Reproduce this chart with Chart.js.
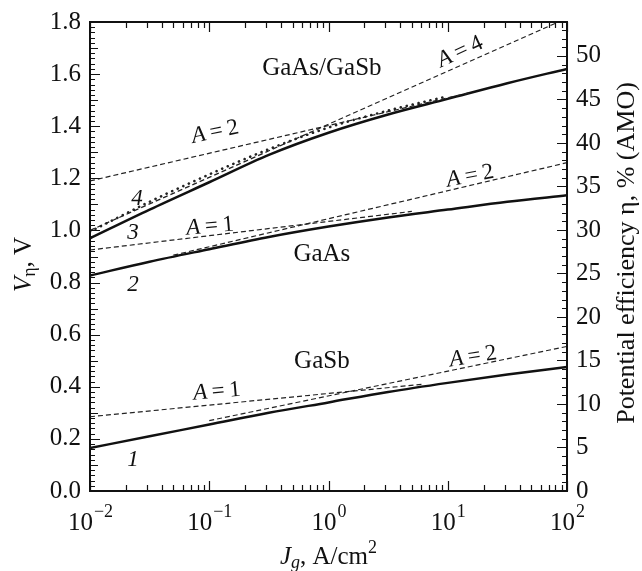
<!DOCTYPE html>
<html>
<head>
<meta charset="utf-8">
<script src="https://cdn.jsdelivr.net/npm/chart.js@4.4.1/dist/chart.umd.min.js"></script>
<style>
  html, body { margin: 0; padding: 0; background: #fff; }
  #grafico { display: block; }
  .pre { position: absolute; left: -999px; top: 0; font-family: "Liberation Serif"; }
</style>
</head>
<body>
<span class="pre">GaAs <i>A</i> 1.8</span>
<canvas id="grafico" width="642" height="571"></canvas>
<script>
// current density grid, A/cm2
const jPontos = [0.01, 0.0316, 0.1, 0.316, 1, 3.16, 10, 31.6, 100];

// solid curves, V
const gaasGasbSolido = [0.970, 1.080, 1.185, 1.290, 1.375, 1.445, 1.505, 1.565, 1.620];
const gaasSolido     = [0.827, 0.880, 0.928, 0.975, 1.015, 1.050, 1.080, 1.110, 1.135];
const gasbSolido     = [0.165, 0.210, 0.255, 0.300, 0.340, 0.380, 0.415, 0.447, 0.476];

// dotted curve (GaAs/GaSb), first 7 points of jPontos
const gaasGasbPontilhado = [0.995, 1.110, 1.215, 1.312, 1.395, 1.460, 1.515];

// straight asymptotes  (J, V)
const tandemA4J = [0.01, 100],  tandemA4V = [1.00, 1.815];
const tandemA2J = [0.01, 15.8], tandemA2V = [1.19, 1.53];
const gaasA1J   = [0.01, 5],    gaasA1V   = [0.925, 1.073];
const gaasA2J   = [0.05, 100],  gaasA2V   = [0.905, 1.26];
const gasbA1J   = [0.01, 6.3],  gasbA1V   = [0.285, 0.41];
const gasbA2J   = [0.1, 100],   gasbA2V   = [0.27, 0.555];

// tick labels
const ticksEsq = [0, 0.2, 0.4, 0.6, 0.8, 1.0, 1.2, 1.4, 1.6, 1.8];
const ticksDir = [0, 5, 10, 15, 20, 25, 30, 35, 40, 45, 50];
const expoentesX = [-2, -1, 0, 1, 2];

const FONTE = '"Liberation Serif"';

function pares(xs, ys) {
    return ys.map((v, i) => ({ x: xs[i], y: v }));
}

function solida(ys) {
    return { data: pares(jPontos, ys), borderColor: '#111', borderWidth: 2.5, cubicInterpolationMode: 'monotone' };
}
function tracejada(xs, ys) {
    return { data: pares(xs, ys), borderColor: '#222', borderWidth: 1.2, borderDash: [5, 3] };
}

const datasets = [
    tracejada(tandemA4J, tandemA4V),
    tracejada(tandemA2J, tandemA2V),
    tracejada(gaasA1J, gaasA1V),
    tracejada(gaasA2J, gaasA2V),
    tracejada(gasbA1J, gasbA1V),
    tracejada(gasbA2J, gasbA2V),
    { data: pares(jPontos, gaasGasbPontilhado), borderColor: '#222', borderWidth: 2.6, borderDash: [0.1, 6],
      borderCapStyle: 'round', cubicInterpolationMode: 'monotone' },
    solida(gaasGasbSolido),
    solida(gaasSolido),
    solida(gasbSolido)
];

// text inside the plot: [parts, J, V, rotation deg, size]
const rotulos = [
    [[['GaAs/GaSb', false]], 0.88, 1.62, 0, 25],
    [[['GaAs', false]], 0.88, 0.908, 0, 25],
    [[['GaSb', false]], 0.88, 0.496, 0, 25],
    [[['4', true]], 0.0248, 1.12, 0, 23],
    [[['3', true]], 0.0229, 0.992, 0, 23],
    [[['2', true]], 0.0229, 0.792, 0, 23],
    [[['1', true]], 0.0229, 0.119, 0, 23],
    [[['A', true], ['\u2009=\u20092', false]], 0.112, 1.377, -12, 23],
    [[['A', true], ['\u2009=\u20091', false]], 0.1016, 1.015, -5, 23],
    [[['A', true], ['\u2009=\u20094', false]], 12.7, 1.685, -25, 23],
    [[['A', true], ['\u2009=\u20092', false]], 15.4, 1.208, -11, 23],
    [[['A', true], ['\u2009=\u20091', false]], 0.116, 0.381, -5, 23],
    [[['A', true], ['\u2009=\u20092', false]], 16.3, 0.515, -9, 23]
];

function textoMisto(ctx, partes, x, y, rot, tam) {
    ctx.save();
    ctx.translate(x, y);
    ctx.rotate(rot * Math.PI / 180);
    let larg = 0;
    partes.forEach(p => {
        ctx.font = (p[1] ? 'italic ' : '') + tam + 'px ' + FONTE;
        larg += ctx.measureText(p[0]).width;
    });
    let cx = -larg / 2;
    ctx.textBaseline = 'middle';
    ctx.textAlign = 'left';
    partes.forEach(p => {
        ctx.font = (p[1] ? 'italic ' : '') + tam + 'px ' + FONTE;
        ctx.fillText(p[0], cx, 0);
        cx += ctx.measureText(p[0]).width;
    });
    ctx.restore();
}

const eixos = {
    id: 'eixos',
    afterDraw(chart) {
        const ctx = chart.ctx;
        const sx = chart.scales.x, sy = chart.scales.y, sy1 = chart.scales.y1;
        const { left, right, top, bottom } = chart.chartArea;
        ctx.save();
        ctx.strokeStyle = '#111';
        ctx.fillStyle = '#111';

        // frame
        ctx.lineWidth = 2;
        ctx.strokeRect(left, top, right - left, bottom - top);

        ctx.lineWidth = 1.2;
        ctx.beginPath();
        // left ticks every 0.02 V
        for (let i = 0; i <= 90; i++) {
            const py = Math.round(sy.getPixelForValue(i * 0.02)) + 0.5;
            const len = i % 10 === 0 ? 10 : (i % 5 === 0 ? 8 : 5);
            ctx.moveTo(left, py); ctx.lineTo(left + len, py);
        }
        // right ticks every 1 %
        for (let i = 0; i <= 53; i++) {
            const py = Math.round(sy1.getPixelForValue(i)) + 0.5;
            const len = i % 5 === 0 ? 10 : 5;
            ctx.moveTo(right, py); ctx.lineTo(right - len, py);
        }
        // log ticks top and bottom
        for (let e = -2; e <= 2; e++) {
            for (let m = 1; m <= 9; m++) {
                if (e === 2 && m > 1) break;
                const px = Math.round(sx.getPixelForValue(m * Math.pow(10, e))) + 0.5;
                const len = m === 1 ? 10 : 6;
                ctx.moveTo(px, bottom); ctx.lineTo(px, bottom - len);
                ctx.moveTo(px, top); ctx.lineTo(px, top + len);
            }
        }
        ctx.stroke();

        // tick labels
        ctx.font = '25px ' + FONTE;
        ctx.textBaseline = 'middle';
        ctx.textAlign = 'right';
        ticksEsq.forEach(v => ctx.fillText(v.toFixed(1), left - 9, sy.getPixelForValue(v)));
        ctx.textAlign = 'left';
        ticksDir.forEach(v => ctx.fillText(String(v), right + 9, sy1.getPixelForValue(v)));

        expoentesX.forEach(e => {
            const px = sx.getPixelForValue(Math.pow(10, e));
            ctx.font = '25px ' + FONTE;
            const wBase = ctx.measureText('10').width;
            const sup = e < 0 ? '\u2212' + (-e) : String(e);
            ctx.font = '18px ' + FONTE;
            const wSup = ctx.measureText(sup).width;
            const x0 = px - (wBase + wSup) / 2;
            ctx.textAlign = 'left';
            ctx.font = '25px ' + FONTE;
            ctx.fillText('10', x0, bottom + 32);
            ctx.font = '18px ' + FONTE;
            ctx.fillText(sup, x0 + wBase + 1, bottom + 21);
        });

        // axis titles
        // bottom: J_g, A/cm2
        {
            const cx = (left + right) / 2;
            const y = bottom + 66;
            const partes = [['J', 'italic 25px '], ['g', 'italic 18px ', 6], [', A/cm', '25px '], ['2', '18px ', -9]];
            let w = 0;
            partes.forEach(p => { ctx.font = p[1] + FONTE; w += ctx.measureText(p[0]).width; });
            let x = cx - w / 2;
            ctx.textAlign = 'left';
            partes.forEach(p => {
                ctx.font = p[1] + FONTE;
                ctx.fillText(p[0], x, y + (p[2] || 0));
                x += ctx.measureText(p[0]).width;
            });
        }
        // left: V_eta, V
        {
            ctx.save();
            ctx.translate(24, (top + bottom) / 2 + 8);
            ctx.rotate(-Math.PI / 2);
            const partes = [['V', 'italic 25px '], ['\u03B7', '18px ', 6], [', V', '25px ']];
            let w = 0;
            partes.forEach(p => { ctx.font = p[1] + FONTE; w += ctx.measureText(p[0]).width; });
            let x = -w / 2;
            partes.forEach(p => {
                ctx.font = p[1] + FONTE;
                ctx.fillText(p[0], x, p[2] || 0);
                x += ctx.measureText(p[0]).width;
            });
            ctx.restore();
        }
        // right: efficiency
        {
            ctx.save();
            ctx.translate(627, 253);
            ctx.rotate(-Math.PI / 2);
            ctx.font = '26px ' + FONTE;
            ctx.textAlign = 'center';
            ctx.fillText('Potential efficiency \u03B7, % (AMO)', 0, 0);
            ctx.restore();
        }

        // labels in the plot
        rotulos.forEach(r => {
            textoMisto(ctx, r[0], sx.getPixelForValue(r[1]), sy.getPixelForValue(r[2]), r[3], r[4]);
        });

        ctx.restore();
    }
};

function desenhar() {
    new Chart(document.getElementById('grafico').getContext('2d'), {
        type: 'line',
        data: { datasets },
        options: {
            responsive: false,
            animation: false,
            layout: { padding: { left: 90, right: 75, top: 22, bottom: 80 } },
            elements: { point: { radius: 0 }, line: { fill: false } },
            plugins: { legend: { display: false }, tooltip: { enabled: false } },
            scales: {
                x: { type: 'logarithmic', min: 0.01, max: 100, display: false },
                y: { min: 0, max: 1.8, display: false },
                y1: { min: 0, max: 53.9, display: false, position: 'right' }
            }
        },
        plugins: [eixos]
    });
}

Promise.all([
    document.fonts.load('25px "Liberation Serif"'),
    document.fonts.load('italic 25px "Liberation Serif"')
]).then(desenhar, desenhar);
</script>
</body>
</html>
